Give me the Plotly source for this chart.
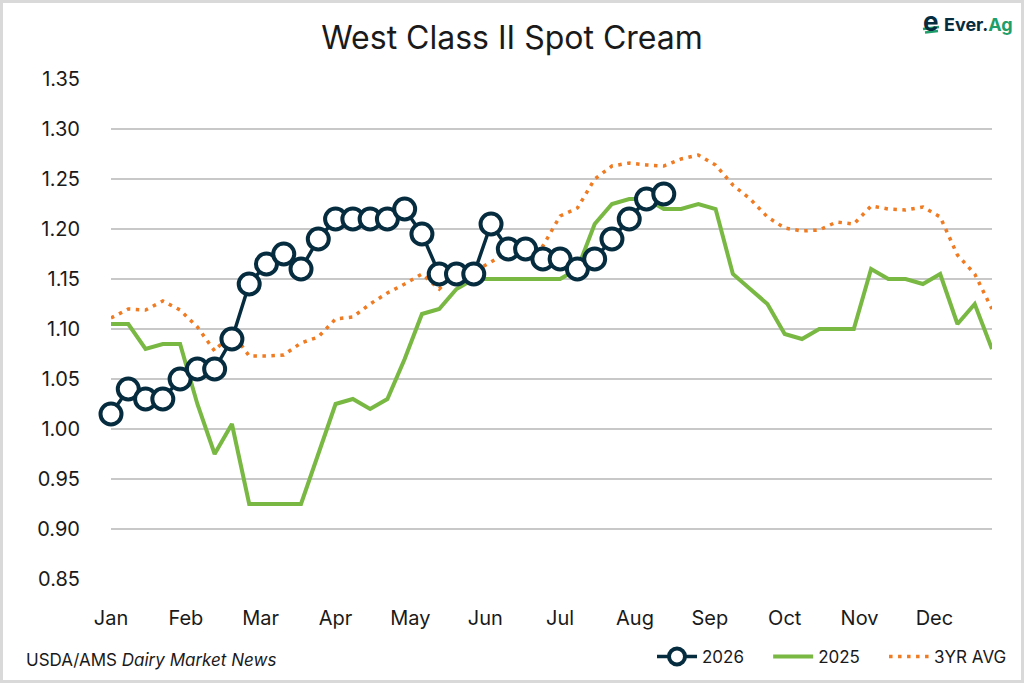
import numpy as np
import plotly.graph_objects as go

# ── Data (weekly, week index 0..51) ───────────────────────────────────────────
MONTHS = ['Jan', 'Feb', 'Mar', 'Apr', 'May', 'Jun',
          'Jul', 'Aug', 'Sep', 'Oct', 'Nov', 'Dec']

Y2026 = [1.015, 1.04, 1.03, 1.03, 1.05, 1.06, 1.06, 1.09, 1.145, 1.165, 1.175,
         1.16, 1.19, 1.21, 1.21, 1.21, 1.21, 1.22, 1.195, 1.155, 1.155, 1.155,
         1.205, 1.18, 1.18, 1.17, 1.17, 1.16, 1.17, 1.19, 1.21, 1.23, 1.235]

Y2025 = [1.105, 1.105, 1.08, 1.085, 1.085, 1.025, 0.975, 1.005, 0.925, 0.925,
         0.925, 0.925, 0.975, 1.025, 1.03, 1.02, 1.03, 1.07, 1.115, 1.12, 1.14,
         1.15, 1.15, 1.15, 1.15, 1.15, 1.15, 1.16, 1.205, 1.225, 1.23, 1.23,
         1.22, 1.22, 1.225, 1.22, 1.155, 1.14, 1.125, 1.095, 1.09, 1.10, 1.10,
         1.10, 1.16, 1.15, 1.15, 1.145, 1.155, 1.105, 1.125, 1.08]

AVG3 = [1.111, 1.12, 1.119, 1.128, 1.119, 1.102, 1.078, 1.097, 1.073, 1.073,
        1.074, 1.086, 1.092, 1.11, 1.112, 1.125, 1.136, 1.145, 1.155, 1.14,
        1.158, 1.157, 1.167, 1.177, 1.176, 1.183, 1.213, 1.221, 1.25, 1.263,
        1.266, 1.264, 1.263, 1.27, 1.274, 1.264, 1.244, 1.23, 1.212, 1.201,
        1.198, 1.199, 1.207, 1.205, 1.223, 1.22, 1.219, 1.222, 1.212, 1.174,
        1.155, 1.12]

# ── Style ─────────────────────────────────────────────────────────────────────
NAVY   = '#062C3F'
GREEN  = '#78B843'
ORANGE = '#EF7B22'
LOGO_G = '#1E9E6A'
GRID   = '#C8C8C8'
TEXT   = '#1A1A1A'
FONT   = 'Inter'
PAD    = '\u00a0' * 4   # extra gap between legend entries

W, H = 1024, 683
L, R, T, B = 111, 32, 79, 104


def px(x, y):
    """Pixel position -> paper coords."""
    return (x - L) / (W - L - R), (H - B - y) / (H - T - B)


weeks = np.arange(len(Y2025))
month_pos = [i * 52 / 12 for i in range(12)]

fig = go.Figure()
# drawn first -> underneath
fig.add_trace(go.Scatter(
    x=weeks, y=Y2025, name='2025' + PAD, mode='lines', legendrank=2,
    line=dict(color=GREEN, width=4),
))
fig.add_trace(go.Scatter(
    x=weeks, y=AVG3, name='3YR AVG', mode='lines', legendrank=3,
    line=dict(color=ORANGE, width=3.5, dash='3.5px,5.5px'),
))
fig.add_trace(go.Scatter(
    x=weeks[:len(Y2026)], y=Y2026, name='2026' + PAD, mode='lines+markers',
    legendrank=1,
    line=dict(color=NAVY, width=3.5),
    marker=dict(symbol='circle', size=21, color='white',
                line=dict(color=NAVY, width=4)),
    cliponaxis=False,
))

fig.update_layout(
    width=W, height=H,
    margin=dict(l=L, r=R, t=T, b=B, autoexpand=False),
    paper_bgcolor='white', plot_bgcolor='white',
    font=dict(family=FONT, color=TEXT, size=20),
    title=dict(text='West Class II Spot Cream', x=0.5, xanchor='center',
               y=1 - 38 / H, yanchor='middle',
               font=dict(size=32, color=TEXT, family=FONT)),
    showlegend=True,
    legend=dict(orientation='h', x=px(1012, 0)[0], xanchor='right',
                y=px(0, 657)[1], yanchor='middle',
                font=dict(size=17, color=TEXT), traceorder='normal',
                itemwidth=40, bgcolor='rgba(0,0,0,0)'),
)
fig.update_xaxes(
    range=[0, 51], tickvals=month_pos, ticktext=MONTHS,
    showgrid=False, zeroline=False, showline=False, ticks='',
    ticklabelstandoff=25, tickfont=dict(size=20, color=TEXT),
    automargin=False,
)
fig.update_yaxes(
    range=[0.85, 1.35], dtick=0.05, tickformat='.2f',
    showgrid=True, gridcolor=GRID, gridwidth=1.5,
    zeroline=False, showline=False, ticks='',
    ticklabelstandoff=30, tickfont=dict(size=20, color=TEXT),
    automargin=False,
)

# source note
sx, sy = px(24, 660)
fig.add_annotation(
    x=sx, y=sy, xref='paper', yref='paper', xanchor='left', yanchor='middle',
    text='USDA/AMS <i>Dairy Market News</i>', showarrow=False,
    font=dict(size=17, color=TEXT),
)

# Ever.Ag logo (approximation)
lx, ly = px(942, 25)
fig.add_annotation(
    x=lx, y=ly, xref='paper', yref='paper', xanchor='left', yanchor='middle',
    text=f"<b><span style='color:{NAVY}'>Ever.</span>"
         f"<span style='color:{LOGO_G}'>Ag</span></b>",
    showarrow=False, font=dict(size=18, family=FONT),
)
ix, iy = px(931, 22)
fig.add_annotation(
    x=ix, y=iy, xref='paper', yref='paper', xanchor='center', yanchor='middle',
    text='<b>e</b>', showarrow=False,
    font=dict(size=26, color=NAVY, family=FONT),
)
for (ax0, ay0, ax1, ay1) in [(923, 29, 939, 27), (925, 32.5, 938, 31)]:
    a0 = px(ax0, ay0)
    a1 = px(ax1, ay1)
    fig.add_shape(type='line', xref='paper', yref='paper',
                  x0=a0[0], y0=a0[1], x1=a1[0], y1=a1[1],
                  line=dict(color=LOGO_G, width=2.5))

# outer border
x0, y0 = px(1.5, H - 1.5)
x1, y1 = px(W - 1.5, 1.5)
fig.add_shape(type='rect', xref='paper', yref='paper',
              x0=x0, y0=y0, x1=x1, y1=y1,
              line=dict(color='#D9D9D9', width=3), layer='below')

fig.write_html('out.html', config={'displayModeBar': False},
               post_script="document.body.style.margin='0';")
